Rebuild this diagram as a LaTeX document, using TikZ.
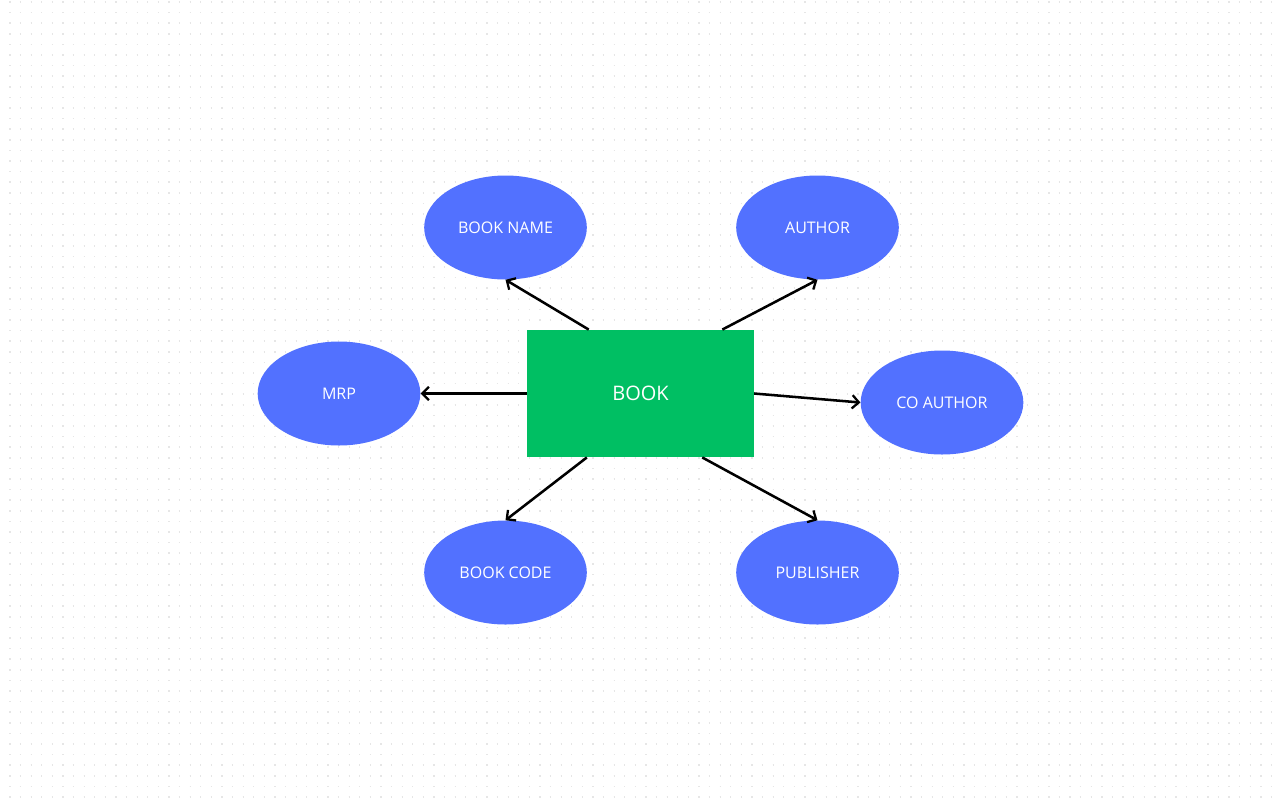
\documentclass[tikz,border=0pt]{standalone}
\usepackage{fontspec}
\setmainfont{Open Sans}
\usetikzlibrary{shapes.geometric,arrows.meta}
\definecolor{attrblue}{HTML}{5271FF}
\definecolor{entgreen}{HTML}{00BF63}
\definecolor{dotgray}{HTML}{E6E6E6}
\tikzset{
  attr/.style={ellipse, fill=attrblue, draw=none, minimum width=122pt, minimum height=78pt, inner sep=0pt, text=white, font=\fontsize{12pt}{14pt}\selectfont},
  entity/.style={rectangle, fill=entgreen, draw=none, minimum width=170pt, minimum height=95.5pt, inner sep=0pt, text=white, font=\fontsize{15pt}{18pt}\selectfont},
  link/.style={draw=black, line width=1.9pt, -{Straight Barb[length=5pt,width=10pt,line width=1.7pt]}},
}
\begin{document}
\begin{tikzpicture}[x=0.75pt,y=-0.75pt]
\useasboundingbox (0,0) rectangle (1280,800);
\fill[white] (0,0) rectangle (1280,800);
% dotted grid background
\foreach \y in {2,12.6,...,800}{
  \draw[dotgray, line width=1.1pt, dash pattern=on 1pt off 6.95pt] (9.35,\y) -- (1280,\y);
}
\node[entity] (book) at (640.5,393.5) {BOOK};
\node[attr] (bname) at (505.5,227.5) {BOOK NAME};
\node[attr] (author) at (817.5,227.5) {AUTHOR};
\node[attr] (mrp) at (339,393.5) {MRP};
\node[attr] (coauthor) at (942,402.5) {CO AUTHOR};
\node[attr] (bcode) at (505.5,572.5) {BOOK CODE};
\node[attr] (publisher) at (817.5,572.5) {PUBLISHER};
\draw[link] (book.129) -- (bname.south);
\draw[link] (book.38) -- (author.south);
\draw[link] (book.west) -- (mrp.east);
\draw[link] (book.east) -- (coauthor.west);
\draw[link] (book.-130) -- (bcode.north);
\draw[link] (book.-46) -- (publisher.north);
\end{tikzpicture}
\end{document}
